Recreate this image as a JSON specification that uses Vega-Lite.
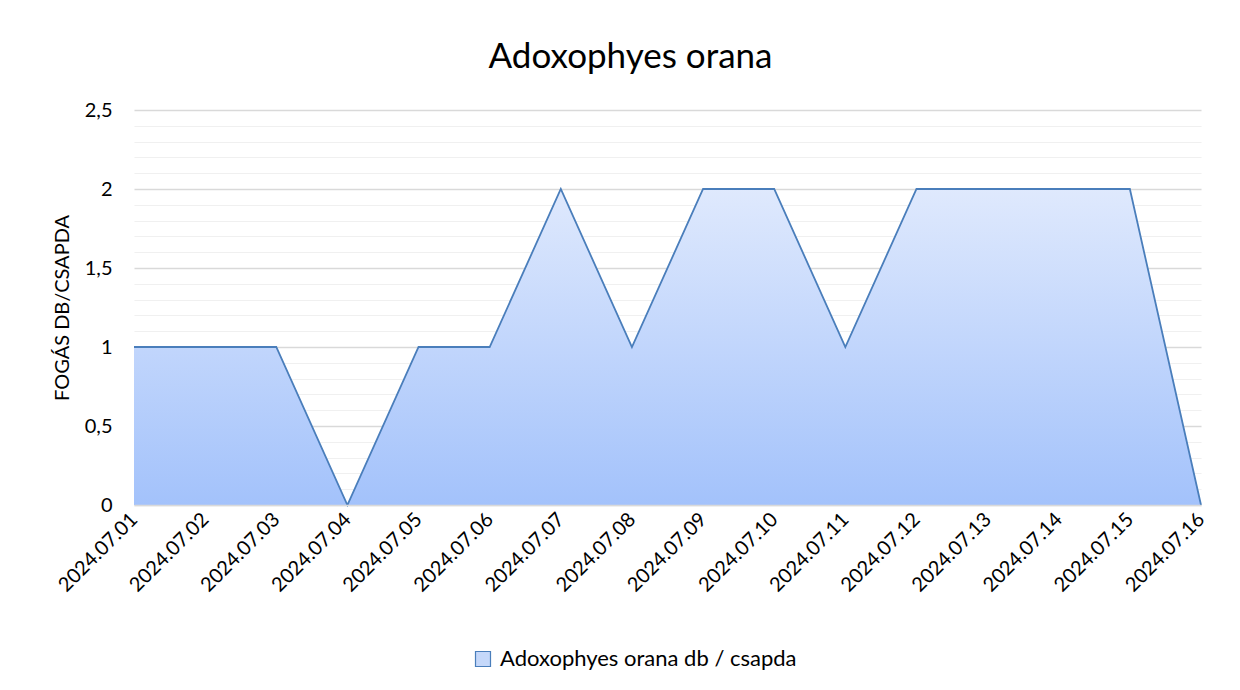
{
  "$schema": "https://vega.github.io/schema/vega-lite/v6.json",
  "autosize": {"type": "none"},
  "width": 1067,
  "height": 395,
  "padding": {"left": 134, "top": 110, "right": 39, "bottom": 185},
  "background": "white",
  "config": {
    "locale": {"number": {"decimal": ",", "thousands": " ", "grouping": [3], "currency": ["", " Ft"]}},
    "font": "Lato",
    "view": {"stroke": null}
  },
  "title": {
    "text": "Adoxophyes orana",
    "font": "Lato",
    "fontSize": 35,
    "fontWeight": "normal",
    "color": "#000000",
    "anchor": "middle",
    "dx": -37,
    "offset": 25
  },
  "data": {
    "values": [
      {"datum": "2024.07.01", "value": 1},
      {"datum": "2024.07.02", "value": 1},
      {"datum": "2024.07.03", "value": 1},
      {"datum": "2024.07.04", "value": 0},
      {"datum": "2024.07.05", "value": 1},
      {"datum": "2024.07.06", "value": 1},
      {"datum": "2024.07.07", "value": 2},
      {"datum": "2024.07.08", "value": 1},
      {"datum": "2024.07.09", "value": 2},
      {"datum": "2024.07.10", "value": 2},
      {"datum": "2024.07.11", "value": 1},
      {"datum": "2024.07.12", "value": 2},
      {"datum": "2024.07.13", "value": 2},
      {"datum": "2024.07.14", "value": 2},
      {"datum": "2024.07.15", "value": 2},
      {"datum": "2024.07.16", "value": 0}
    ]
  },
  "encoding": {
    "x": {
      "field": "datum",
      "type": "ordinal",
      "scale": {"type": "point", "padding": 0},
      "axis": {
        "title": null,
        "labelAngle": -45,
        "labelAlign": "right",
        "labelBaseline": "middle",
        "labelFont": "Lato",
        "labelFontSize": 20,
        "labelColor": "#000000",
        "labelPadding": 11,
        "ticks": false,
        "domain": true,
        "domainColor": "#d9d9d9",
        "domainWidth": 1.5,
        "grid": false,
        "zindex": 1
      }
    },
    "y": {
      "field": "value",
      "type": "quantitative",
      "scale": {"domain": [0, 2.5], "nice": false},
      "axis": {
        "title": "FOGÁS DB/CSAPDA",
        "titleFont": "Lato",
        "titleFontSize": 20,
        "titleFontWeight": "normal",
        "titleColor": "#000000",
        "titlePadding": 12,
        "values": [0, 0.1, 0.2, 0.3, 0.4, 0.5, 0.6, 0.7, 0.8, 0.9, 1, 1.1, 1.2, 1.3, 1.4, 1.5, 1.6, 1.7, 1.8, 1.9, 2, 2.1, 2.2, 2.3, 2.4, 2.5],
        "labelExpr": "abs(datum.value * 2 - round(datum.value * 2)) < 0.001 ? format(datum.value, '.1~f') : ''",
        "labelFont": "Lato",
        "labelFontSize": 20,
        "labelColor": "#000000",
        "labelPadding": 22,
        "labelOverlap": false,
        "ticks": false,
        "domain": false,
        "grid": true,
        "gridColor": {"condition": {"test": "abs(datum.value * 2 - round(datum.value * 2)) < 0.001", "value": "#d9d9d9"}, "value": "#f0f0f0"},
        "gridWidth": {"condition": {"test": "abs(datum.value * 2 - round(datum.value * 2)) < 0.001", "value": 1.5}, "value": 1.2}
      }
    }
  },
  "layer": [
    {
      "mark": {"type": "area", "interpolate": "linear"},
      "encoding": {
        "fill": {
          "datum": "Adoxophyes orana db / csapda",
          "type": "nominal",
          "scale": {"range": ["#c5d8fa"]},
          "legend": {
            "title": null,
            "orient": "none",
            "legendX": 338,
            "legendY": 538,
            "symbolType": "square",
            "symbolSize": 225,
            "symbolStrokeColor": "#4a7ebb",
            "symbolStrokeWidth": 1.2,
            "labelFont": "Lato",
            "labelFontSize": 22,
            "labelColor": "#000000",
            "labelOffset": 6,
            "labelLimit": 0
          }
        }
      }
    },
    {
      "mark": {
        "type": "area",
        "interpolate": "linear",
        "fill": {
          "gradient": "linear",
          "x1": 0, "y1": 0, "x2": 0, "y2": 1,
          "stops": [
            {"offset": 0, "color": "#dfe9fd"},
            {"offset": 1, "color": "#a3c2fb"}
          ]
        }
      }
    },
    {
      "mark": {"type": "line", "interpolate": "linear", "color": "#4a7ebb", "strokeWidth": 1.8},
      "encoding": {}
    }
  ]
}
